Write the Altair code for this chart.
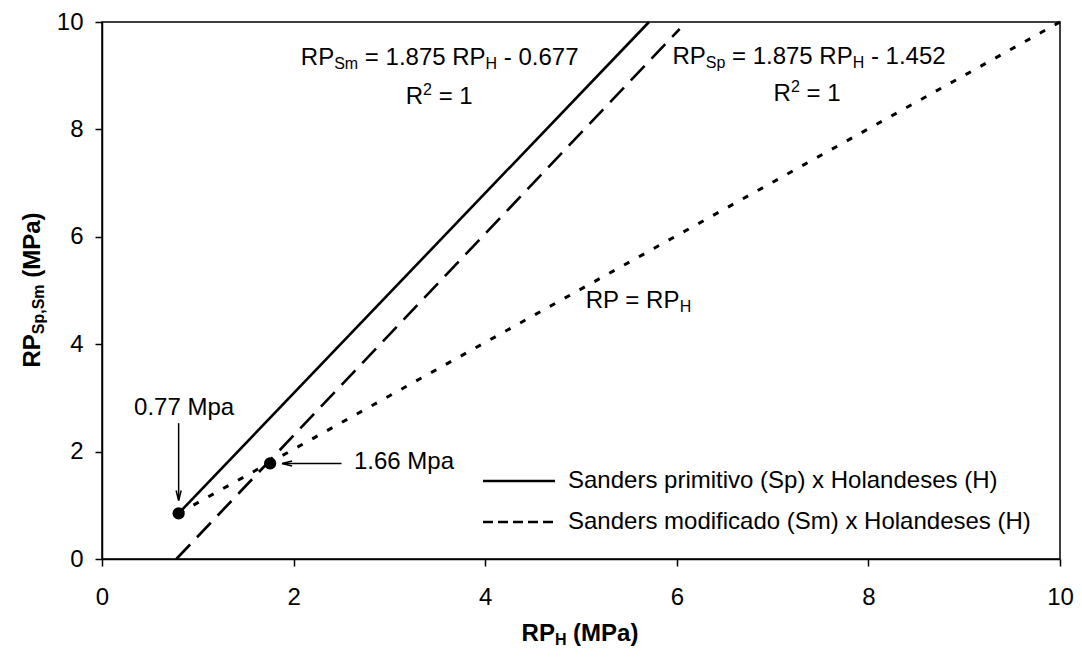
import altair as alt
import pandas as pd

# ---------------- data ----------------
solid_x = [0.80, 5.71]          # Sanders primitivo (Sp) x Holandeses (H)
solid_y = [0.85, 10.0]
dashed_x = [0.776, 6.03]        # Sanders modificado (Sm) x Holandeses (H)
dashed_y = [0.0, 9.87]
dotted_x = [0.80, 10.0]         # RP = RP_H
dotted_y = [0.85, 10.0]
point_x = [0.80, 1.755]
point_y = [0.85, 1.78]
x_ticks = [0, 2, 4, 6, 8, 10]
y_ticks = [0, 2, 4, 6, 8, 10]

arrow1_x = [0.80, 0.80]         # arrow under "0.77 Mpa"
arrow1_y = [2.53, 1.09]
arrow2_x = [2.50, 1.88]         # arrow left of "1.66 Mpa"
arrow2_y = [1.78, 1.78]

legend_labels = ["Sanders primitivo (Sp) x Holandeses (H)",
                 "Sanders modificado (Sm) x Holandeses (H)"]

FONT = "Liberation Sans"
FS = 24
SUB = 16
W, H = 958, 537

# Arial / Liberation Sans advance widths (per 1000 em)
WR = {' ': 278, '(': 333, ')': 333, ',': 278, '-': 333, '.': 278,
      '=': 584, 'H': 722, 'M': 833, 'P': 667, 'R': 722, 'S': 667, 'a': 556,
      'm': 833, 'p': 556}
for d in '0123456789':
    WR[d] = 556
WB = {' ': 278, '(': 333, ')': 333, ',': 278, 'H': 722, 'M': 833,
      'P': 667, 'R': 722, 'S': 667, 'a': 556, 'm': 889, 'p': 611}


def seg_width(s, size, bold):
    tbl = WB if bold else WR
    return sum(tbl.get(c, 556) for c in s) * size / 1000.0


xs = alt.Scale(domain=[0, 10], nice=False, zero=False)
ys = alt.Scale(domain=[0, 10], nice=False, zero=False)
axis_common = dict(title=None, grid=False, labelFontSize=FS, labelFont=FONT,
                   labelColor='black', tickColor='black', domainColor='black',
                   tickSize=7, tickWidth=1.5, domainWidth=1.5, labelFlush=False)
xaxis = alt.Axis(values=x_ticks, labelPadding=19, **axis_common)
yaxis = alt.Axis(values=y_ticks, labelPadding=12, **axis_common)


def X(f='x'):
    return alt.X(f, type='quantitative', scale=xs, axis=xaxis)


def Y(f='y'):
    return alt.Y(f, type='quantitative', scale=ys, axis=yaxis)


def line_layer(xv, yv, dash=None, width=2.6):
    df = pd.DataFrame({'x': xv, 'y': yv})
    kw = dict(color='black', strokeWidth=width)
    if dash:
        kw['strokeDash'] = dash
    return alt.Chart(df).mark_line(**kw).encode(x=X(), y=Y())


def rule_layer(xv, yv, width=1.5):
    df = pd.DataFrame({'x': [xv[0]], 'y': [yv[0]], 'x2': [xv[1]], 'y2': [yv[1]]})
    return alt.Chart(df).mark_rule(color='black', strokeWidth=width).encode(
        x=X(), y=Y(), x2='x2', y2='y2')


def head_layer(x, y, shape):
    df = pd.DataFrame({'x': [x], 'y': [y]})
    return alt.Chart(df).mark_point(shape=shape, size=100, filled=False,
                                    stroke='black', strokeWidth=1.5,
                                    opacity=1).encode(x=X(), y=Y())


def rich_layers(segs, df, enc, align='left', angle=0, bold=False):
    """Text with sub/superscript pieces; leading/trailing spaces become offsets."""
    widths = [seg_width(t, FS if k == 'n' else SUB, bold) for t, k in segs]
    total = sum(widths)
    off = 0.0 if align == 'left' else -total / 2.0
    layers = []
    for (t, k), w in zip(segs, widths):
        size = FS if k == 'n' else SUB
        lead = len(t) - len(t.lstrip(' '))
        shown = t.strip(' ')
        shift = 4 if k == 'sub' else (-9 if k == 'sup' else 0)
        kw = dict(text=shown, align='left', baseline='alphabetic',
                  dx=off + seg_width(' ' * lead, size, bold), dy=shift,
                  font=FONT, fontSize=size,
                  fontWeight='bold' if bold else 'normal', color='black')
        if angle:
            kw['angle'] = angle
        layers.append(alt.Chart(df).mark_text(**kw).encode(**enc))
        off += w
    return layers


def data_anchor(x, y):
    return pd.DataFrame({'x': [x], 'y': [y]}), dict(x=X(), y=Y())


def px_anchor(px, py):
    return pd.DataFrame({'a': [0]}), dict(x=alt.value(px), y=alt.value(py))


layers = []
layers.append(line_layer(dotted_x, dotted_y, dash=[6, 11], width=3))
layers.append(line_layer(dashed_x, dashed_y, dash=[20, 10]))
layers.append(line_layer(solid_x, solid_y))

pts = pd.DataFrame({'x': point_x, 'y': point_y})
layers.append(alt.Chart(pts).mark_circle(size=150, color='black', opacity=1)
              .encode(x=X(), y=Y()))

layers.append(rule_layer(arrow1_x, arrow1_y))
layers.append(head_layer(arrow1_x[1], arrow1_y[1], "M -0.5 -2 L 0 0 L 0.5 -2"))
layers.append(rule_layer(arrow2_x, arrow2_y))
layers.append(head_layer(arrow2_x[1], arrow2_y[1], "M 2 -0.5 L 0 0 L 2 0.5"))

# annotations
df, enc = data_anchor(3.525, 9.20)
layers += rich_layers([("RP", 'n'), ("Sm", 'sub'), (" = 1.875 RP", 'n'),
                       ("H", 'sub'), (" - 0.677", 'n')], df, enc, align='center')
df, enc = data_anchor(3.52, 8.48)
layers += rich_layers([("R", 'n'), ("2", 'sup'), (" = 1", 'n')], df, enc,
                      align='center')
df, enc = data_anchor(7.38, 9.22)
layers += rich_layers([("RP", 'n'), ("Sp", 'sub'), (" = 1.875 RP", 'n'),
                       ("H", 'sub'), (" - 1.452", 'n')], df, enc, align='center')
df, enc = data_anchor(7.36, 8.52)
layers += rich_layers([("R", 'n'), ("2", 'sup'), (" = 1", 'n')], df, enc,
                      align='center')
df, enc = data_anchor(5.05, 4.67)
layers += rich_layers([("RP = RP", 'n'), ("H", 'sub')], df, enc, align='left')
df, enc = data_anchor(0.857, 2.685)
layers += rich_layers([("0.77 Mpa", 'n')], df, enc, align='center')
df, enc = data_anchor(2.63, 1.67)
layers += rich_layers([("1.66 Mpa", 'n')], df, enc, align='left')

# legend
one = pd.DataFrame({'a': [0]})
layers.append(alt.Chart(one).mark_rule(color='black', strokeWidth=2.6).encode(
    x=alt.value(381), x2=alt.value(453), y=alt.value(459)))
layers.append(alt.Chart(one).mark_rule(color='black', strokeWidth=2.6,
                                       strokeDash=[10, 5]).encode(
    x=alt.value(381), x2=alt.value(453), y=alt.value(500)))
layers.append(alt.Chart(one).mark_text(text=legend_labels[0], align='left',
                                       baseline='middle', font=FONT, fontSize=FS,
                                       color='black').encode(
    x=alt.value(466), y=alt.value(459)))
layers.append(alt.Chart(one).mark_text(text=legend_labels[1], align='left',
                                       baseline='middle', font=FONT, fontSize=FS,
                                       color='black').encode(
    x=alt.value(466), y=alt.value(500)))

# axis titles
df, enc = px_anchor(478, 619)
layers += rich_layers([("RP", 'n'), ("H", 'sub'), (" (MPa)", 'n')], df, enc,
                      align='center', bold=True)
df, enc = px_anchor(-62, 268)
layers += rich_layers([("RP", 'n'), ("Sp,Sm", 'sub'), (" (MPa)", 'n')], df, enc,
                      align='center', bold=True, angle=270)

chart = alt.layer(*layers).properties(
    width=W, height=H,
    padding={"left": 94, "top": 14, "right": 14, "bottom": 90},
    autosize=alt.AutoSizeParams(type="none"),
    background='white',
).configure_view(stroke='black', strokeWidth=1.5)

chart.save("out.html", embed_options={"renderer": "svg", "actions": False})
